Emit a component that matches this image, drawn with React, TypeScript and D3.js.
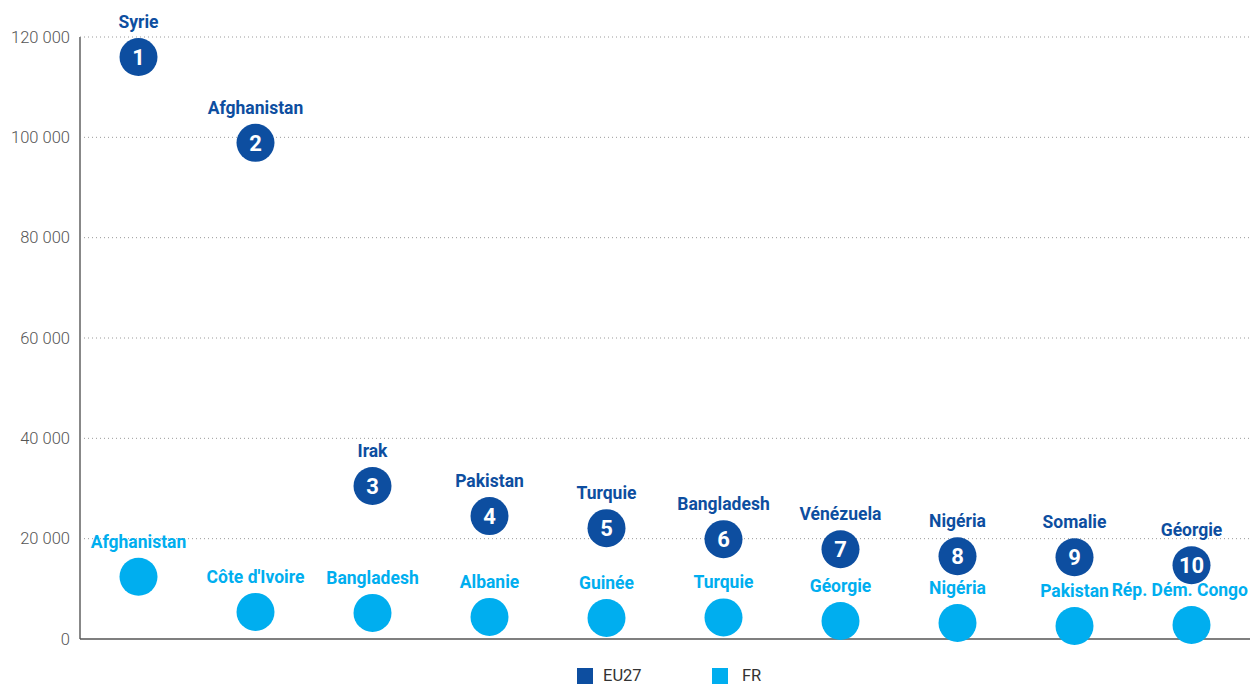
import React from "react";
import * as d3 from "d3";

const ranks = [1, 2, 3, 4, 5, 6, 7, 8, 9, 10];
const euCountries = ["Syrie", "Afghanistan", "Irak", "Pakistan", "Turquie", "Bangladesh", "Vénézuela", "Nigéria", "Somalie", "Géorgie"];
const euValues = [116000, 98900, 30500, 24500, 22100, 19900, 17900, 16500, 16300, 14700];
const frCountries = ["Afghanistan", "Côte d'Ivoire", "Bangladesh", "Albanie", "Guinée", "Turquie", "Géorgie", "Nigéria", "Pakistan", "Rép. Dém. Congo"];
const frValues = [12400, 5400, 5200, 4400, 4200, 4300, 3600, 3200, 2600, 2800];
const yTicks = [0, 20000, 40000, 60000, 80000, 100000, 120000];
const legendItems = ["EU27", "FR"];

const EU = "#0d4ea0";
const FRC = "#00aeef";
const W = 1250, H = 684;
const M = { left: 80, right: 1250, top: 37, bottom: 639 };
const font = "Roboto, 'Noto Sans', sans-serif";
const LABEL_SIZE = 17.5;

let ctx: CanvasRenderingContext2D | null = null;
function textWidth(s: string): number {
  if (!ctx) ctx = document.createElement("canvas").getContext("2d");
  if (!ctx) return s.length * 9;
  ctx.font = `700 ${LABEL_SIZE}px Roboto`;
  return ctx.measureText(s).width;
}
function labelX(cx: number, s: string): number {
  const w = textWidth(s);
  const maxRight = W - 2;
  return cx + w / 2 > maxRight ? maxRight - w / 2 : cx;
}

export default function App() {
  const x = d3.scaleBand<number>().domain(ranks).range([M.left, M.right]);
  const y = d3.scaleLinear().domain([0, 120000]).range([M.bottom, M.top]);
  const fmt = (v: number) => d3.format(",")(v).replace(/,/g, " ");
  const r = 19;
  return (
    <svg width={W} height={H} style={{ position: "absolute", left: 0, top: 0, fontFamily: font }}>
      {yTicks.map((t) => (
        <g key={t}>
          {t > 0 && (
            <line x1={M.left} x2={M.right} y1={y(t)} y2={y(t)} stroke="#9a9a9a" strokeWidth={1} strokeDasharray="1,3" />
          )}
          <text x={70} y={y(t) + 5.5} textAnchor="end" fontSize={16.5} fill="#555" fontWeight={300}>
            {fmt(t)}
          </text>
        </g>
      ))}
      <line x1={M.left} x2={M.left} y1={M.top} y2={M.bottom} stroke="#888" strokeWidth={2} />
      <line x1={M.left} x2={M.right} y1={M.bottom} y2={M.bottom} stroke="#555" strokeWidth={1.5} />
      {ranks.map((rk, i) => {
        const cx = (x(rk) as number) + x.bandwidth() / 2;
        const ey = y(euValues[i]);
        const fy = y(frValues[i]);
        return (
          <g key={rk}>
            <circle cx={cx} cy={fy} r={r} fill={FRC} />
            <text x={labelX(cx, frCountries[i])} y={fy - 29} textAnchor="middle" fontSize={LABEL_SIZE} fontWeight={700} fill={FRC}>
              {frCountries[i]}
            </text>
            <circle cx={cx} cy={ey} r={r} fill={EU} />
            <text x={cx} y={ey + 8} textAnchor="middle" fontSize={22} fontWeight={700} fill="#fff">
              {rk}
            </text>
            <text x={labelX(cx, euCountries[i])} y={ey - 29} textAnchor="middle" fontSize={LABEL_SIZE} fontWeight={700} fill={EU}>
              {euCountries[i]}
            </text>
          </g>
        );
      })}
      {legendItems.map((l, i) => {
        const lx = 577 + i * 135;
        return (
          <g key={l}>
            <rect x={lx} y={668} width={16} height={16} fill={i === 0 ? EU : FRC} />
            <text x={lx + 26 + i * 4} y={681} fontSize={16.5} fill="#333">
              {l}
            </text>
          </g>
        );
      })}
    </svg>
  );
}
